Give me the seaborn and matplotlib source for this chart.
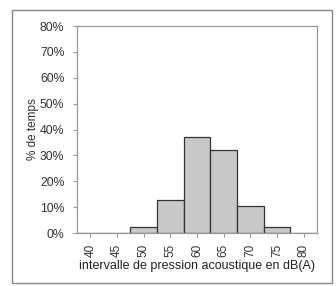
#Histogram of sound pressure levels

#Import modules
import matplotlib.pyplot as plt
import matplotlib.patches as patches
import pandas as pd
import seaborn as sb

#Data
levels = ['40', '45', '50', '55', '60', '65', '70', '75', '80']
share = [0.0, 0.0, 2.3, 12.7, 37.0, 32.0, 10.3, 2.3, 0.0]
y_ticks = [0, 10, 20, 30, 40, 50, 60, 70, 80]

df = pd.DataFrame({'level': levels, 'share': share})

sb.set_style('white')
plt.rcParams['font.family'] = ['Liberation Sans', 'DejaVu Sans']

fig = plt.figure(figsize = (3.36, 2.86), dpi = 100)
ax = fig.add_axes([0.229, 0.185, 0.714, 0.724])

sb.barplot(data = df, x = 'level', y = 'share', color = '#c8c8c8', saturation = 1,
        width = 1.0, edgecolor = '#333333', linewidth = 0.9, ax = ax)

ax.set_xlim(-0.5, len(levels) - 0.5)
ax.set_ylim(0, 80)
ax.set_yticks(y_ticks)
ax.set_yticklabels([f'{t}%' for t in y_ticks], fontsize = 8.8, color = '#333333')
ax.set_xticks(range(len(levels)))
ax.set_xticklabels(levels, rotation = 90, fontsize = 8.5, color = '#333333')
ax.tick_params(axis = 'y', length = 3, color = '#999999', left = True, pad = 6)
ax.tick_params(axis = 'x', length = 3, color = '#999999', bottom = True, pad = 5)
for s in ax.spines.values():
    s.set_color('#999999')
    s.set_linewidth(0.9)

ax.set_xlabel('intervalle de pression acoustique en dB(A)', fontsize = 9, color = '#222222', labelpad = 2)
ax.set_ylabel('% de temps', fontsize = 8.5, color = '#333333', labelpad = 1)

#Outer frame
fig.patches.append(patches.Rectangle((12 / 336, 3 / 286), 320 / 336, 273 / 286,
        transform = fig.transFigure, fill = False, edgecolor = '#888888', linewidth = 1))

fig.savefig('out.png', dpi = 100)
